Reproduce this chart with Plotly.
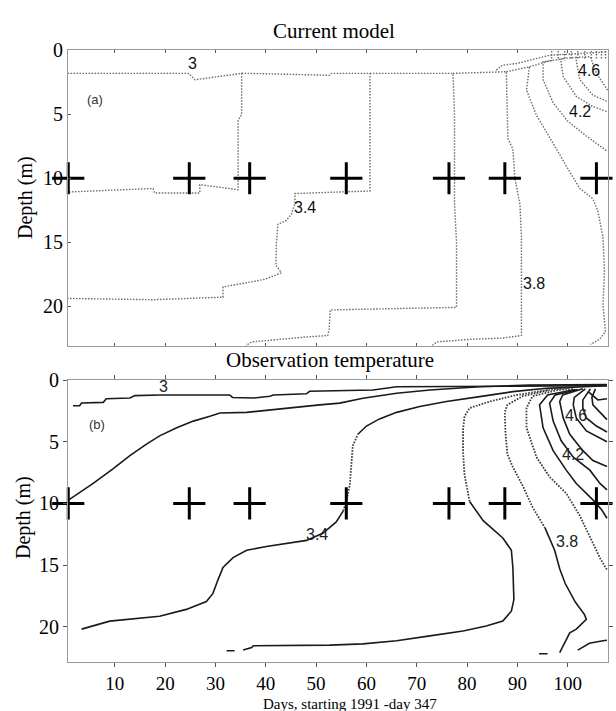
import plotly.graph_objects as go

# ---------------- data ----------------
# x = days (starting 1991 - day 347), y = depth (m)
x_ticks = [10, 20, 30, 40, 50, 60, 70, 80, 90, 100]
y_ticks = [0, 5, 10, 15, 20]

cross_days = [0.75, 24.8, 36.8, 56.0, 76.4, 87.5, 105.7]
cross_depth = [10, 10, 10, 10, 10, 10, 10]

# ---- panel (a): current model contour lines ----
a1_x = [0.6, 24.6, 25.2, 25.9, 35.2, 35.2, 34.5, 34.5, 26.9, 26.9, 17.9, 17.6, 0.6]
a1_y = [1.8, 1.8, 2.0, 2.3, 1.8, 5.0, 5.5, 10.9, 10.5, 11.15, 11.15, 10.8, 11.08]

a2_x = [35.2, 36.8, 52.7, 53.0, 60.7, 60.7, 52.7, 45.8, 45.8, 45.1, 44.1, 42.4, 42.1, 42.0,
        43.1, 39.8, 37.2, 31.5, 31.5, 17.6, 0.6]
a2_y = [1.8, 1.8, 1.95, 1.8, 1.8, 11.0, 11.1, 11.2, 12.0, 12.8, 13.3, 13.6, 15.2, 16.8,
        17.4, 17.9, 18.1, 18.5, 19.3, 19.5, 19.4]

a3_x = [60.7, 77.2, 77.5, 77.5, 77.9, 78.0, 77.9, 65.0, 52.8, 52.6, 52.3, 48.5, 44.0, 40.5, 37.2, 36.0]
a3_y = [1.8, 1.8, 5.0, 12.0, 15.0, 19.5, 20.1, 20.2, 20.3, 21.8, 22.3, 22.4, 22.55, 22.65, 22.8, 23.1]

a4_x = [77.2, 87.8, 88.1, 89.1, 89.5, 90.5, 90.8, 90.8, 90.8, 87.0, 80.5, 74.0, 73.0]
a4_y = [1.8, 1.67, 6.9, 7.7, 10.0, 12.05, 14.6, 18.85, 22.3, 22.5, 22.6, 22.8, 23.1]

a5_x = [87.8, 92.4, 91.8, 93.8, 95.8, 98.4, 100.4, 102.4, 105.0, 106.0, 107.0, 107.3, 107.0, 107.5, 106.3, 104.5]
a5_y = [1.67, 1.28, 3.1, 5.1, 6.4, 8.2, 9.5, 10.8, 11.6, 12.6, 14.6, 17.3, 19.9, 22.0, 22.6, 23.0]

a6_x = [92.4, 96.4, 95.1, 95.1, 97.1, 99.9, 103.7, 107.9]
a6_y = [1.28, 0.82, 0.9, 2.3, 4.1, 5.5, 6.7, 7.9]

a7_x = [96.4, 99.1, 98.6, 99.1, 101.7, 105.0, 107.9]
a7_y = [0.82, 0.64, 0.7, 2.05, 3.6, 4.4, 4.8]

a8_x = [99.1, 101.6, 102.0, 102.4, 105.0, 107.9]
a8_y = [0.64, 0.55, 1.5, 2.3, 3.5, 4.0]

a9_x = [101.6, 104.5, 105.7, 107.9]
a9_y = [0.55, 0.5, 1.8, 3.1]

a10_x = [85.8, 87.1, 89.8, 96.4, 107.9]
a10_y = [1.54, 1.15, 1.03, 0.38, 0.12]

a_surface_days = [96.8, 98.1, 99.4, 100.7, 102.0, 103.4, 104.7, 105.7, 106.7, 107.5]
a_surface_top = [0.05] * 10
a_surface_bottom = [0.85, 0.8, 0.8, 0.75, 0.75, 0.7, 0.7, 0.7, 0.7, 0.7]

# ---- panel (b): observation temperature contour lines ----
b1_x = [1.7, 3.0, 3.4, 7.7, 8.3, 13.0, 14.0, 18.9, 32.8, 33.4, 37.5, 40.8, 41.5, 48.1, 48.7,
        54.7, 61.3, 66.0, 80.0, 95.0, 107.8]
b1_y = [2.07, 2.07, 1.85, 1.8, 1.5, 1.45, 1.25, 1.2, 1.2, 1.4, 1.45, 1.3, 1.2, 1.1, 0.9,
        0.85, 0.8, 0.53, 0.5, 0.47, 0.45]

b2_x = [0.7, 5.7, 9.7, 13.0, 16.3, 18.9, 22.3, 25.6, 28.9, 30.9, 36.2, 41.4, 45.4, 50.7, 54.7,
        59.3, 66.0, 72.6, 82.5, 92.4, 107.8]
b2_y = [9.75, 8.38, 7.18, 6.12, 5.19, 4.52, 3.86, 3.32, 2.93, 2.66, 2.61, 2.39, 2.18, 2.0, 1.86,
        1.46, 1.06, 0.8, 0.53, 0.4, 0.36]

# 3.4 line: lower solid part, dotted vertical part near day 57, upper solid part
b3_low_x = [3.4, 9.0, 18.9, 24.2, 28.2, 29.5, 30.5, 31.5, 33.5, 36.2, 40.1, 45.4, 48.1, 51.4, 54.0, 55.4]
b3_low_y = [20.2, 19.55, 19.15, 18.6, 17.96, 17.3, 16.2, 15.2, 14.4, 13.8, 13.5, 13.2, 13.0, 12.4, 11.5, 10.6]
b3_mid_x = [55.4, 56.0, 56.7, 57.0, 57.3, 58.3]
b3_mid_y = [10.6, 9.84, 8.5, 6.65, 5.3, 4.39]
b3_up_x = [58.3, 60.0, 62.6, 66.0, 70.6, 75.9, 82.5, 89.1, 95.8, 105.7, 107.8]
b3_up_y = [4.39, 3.72, 3.14, 2.61, 2.13, 1.73, 1.33, 0.93, 0.66, 0.48, 0.45]

b4_up_x = [96.0, 89.8, 84.5, 80.5, 79.5, 79.2, 79.2, 79.5, 80.5]
b4_up_y = [0.8, 1.2, 1.73, 2.26, 2.93, 4.0, 5.85, 7.7, 9.84]
b4_low_x = [80.5, 83.2, 87.1, 88.8, 89.1, 89.3, 88.8, 87.1, 83.8, 79.2, 72.6, 66.0, 59.3, 52.7,
            37.5, 37.2, 35.5]
b4_low_y = [9.84, 11.4, 12.8, 13.8, 15.2, 17.8, 18.75, 19.55, 19.95, 20.35, 20.75, 21.15, 21.4,
            21.5, 21.55, 21.7, 21.9]
b4_dash_x = [32.2, 33.8]
b4_dash_y = [21.95, 21.95]

b5_up_x = [100.0, 97.0, 91.0, 88.0, 87.5, 87.6, 88.0, 89.1, 91.1, 93.0, 95.5]
b5_up_y = [0.65, 0.75, 1.3, 2.0, 2.6, 4.1, 6.0, 7.05, 8.6, 10.3, 12.0]
b5_low_x = [95.5, 97.4, 98.4, 99.5, 101.5, 103.3, 103.7, 101.7, 100.4, 99.4, 98.4]
b5_low_y = [12.0, 13.8, 15.3, 16.5, 18.0, 19.0, 19.4, 20.2, 20.5, 21.3, 22.1]
b5_dash_x = [94.3, 96.0]
b5_dash_y = [22.2, 22.2]
b5b_x = [102.0, 104.3, 107.0, 107.8]
b5b_y = [21.9, 21.35, 21.15, 21.1]

b6_x = [101.0, 98.0, 93.0, 91.8, 91.8, 93.8, 96.4, 99.7, 102.4, 104.5, 106.5, 107.8]
b6_y = [0.7, 0.8, 1.3, 2.26, 3.86, 6.25, 7.85, 9.18, 11.0, 12.8, 14.5, 15.4]

b7_x = [101.5, 96.0, 94.4, 95.1, 97.1, 99.7, 101.7, 105.0, 106.7, 107.8]
b7_y = [0.75, 1.2, 2.0, 3.86, 5.72, 7.3, 8.38, 9.71, 10.5, 11.2]

b8_x = [102.0, 97.5, 96.4, 97.1, 98.7, 101.1, 104.4, 106.4, 107.8]
b8_y = [0.75, 1.2, 1.86, 3.32, 4.92, 6.25, 7.3, 8.38, 8.9]

b9_x = [103.0, 99.0, 98.4, 99.1, 100.4, 103.0, 105.0, 107.8]
b9_y = [0.7, 1.2, 1.73, 3.06, 4.39, 5.72, 6.52, 7.0]

b10_x = [103.5, 101.3, 101.1, 101.7, 103.7, 107.8]
b10_y = [0.7, 1.4, 2.0, 3.06, 4.12, 5.0]

b11_x = [104.5, 103.0, 103.0, 103.7, 105.7, 107.8]
b11_y = [0.7, 1.6, 2.26, 3.06, 3.72, 4.2]

b12_x = [105.5, 104.8, 105.0, 107.8]
b12_y = [0.7, 1.4, 2.0, 3.2]

b13_x = [104.0, 106.0, 107.8]
b13_y = [0.9, 1.6, 1.5]

# contour labels
a_label_text = ["3", "3.4", "3.8", "4.2", "4.6"]
a_label_x = [25.4, 47.7, 93.3, 102.4, 104.2]
a_label_y = [1.0, 12.25, 18.2, 4.75, 1.55]

b_label_text = ["3", "3.4", "3.8", "4.2", "4.6"]
b_label_x = [19.7, 50.1, 99.8, 101.1, 101.7]
b_label_y = [0.55, 12.5, 13.05, 6.0, 2.9]

# ---------------- figure ----------------
W, H = 616, 711
fig = go.Figure()

SERIF = "Liberation Serif, Times New Roman, serif"
SANS = "Liberation Sans, Arial, sans-serif"

def add_line(xs, ys, panel, color, width, dash="solid"):
    ax = dict(xaxis="x", yaxis="y") if panel == "a" else dict(xaxis="x2", yaxis="y2")
    fig.add_trace(go.Scatter(x=xs, y=ys, mode="lines",
                             line=dict(color=color, width=width, dash=dash),
                             hoverinfo="skip", showlegend=False, **ax))

A_COL = "#6a6a6a"
A_DASH = "1.5px,1.5px"
for xs, ys in [(a1_x, a1_y), (a2_x, a2_y), (a3_x, a3_y), (a4_x, a4_y), (a5_x, a5_y),
               (a6_x, a6_y), (a7_x, a7_y), (a8_x, a8_y), (a9_x, a9_y), (a10_x, a10_y)]:
    add_line(xs, ys, "a", A_COL, 1.4, A_DASH)

sx, sy = [], []
for d, t, b in zip(a_surface_days, a_surface_top, a_surface_bottom):
    sx += [d, d, None]
    sy += [t, b, None]
add_line(sx, sy, "a", A_COL, 1.4, A_DASH)

B_COL = "#1a1a1a"
for xs, ys in [(b1_x, b1_y), (b2_x, b2_y), (b3_low_x, b3_low_y), (b3_up_x, b3_up_y),
               (b4_low_x, b4_low_y), (b4_dash_x, b4_dash_y),
               (b5_low_x, b5_low_y), (b5_dash_x, b5_dash_y), (b5b_x, b5b_y),
               (b7_x, b7_y), (b8_x, b8_y), (b9_x, b9_y), (b10_x, b10_y),
               (b11_x, b11_y), (b12_x, b12_y), (b13_x, b13_y)]:
    add_line(xs, ys, "b", B_COL, 1.6)
for xs, ys in [(b3_mid_x, b3_mid_y), (b4_up_x, b4_up_y), (b5_up_x, b5_up_y), (b6_x, b6_y)]:
    add_line(xs, ys, "b", "#3a3a3a", 1.8, "1.6px,1.4px")

# crosses
for xa, ya in [("x", "y"), ("x2", "y2")]:
    fig.add_trace(go.Scatter(x=cross_days, y=cross_depth, mode="markers",
                             marker=dict(symbol="cross-thin", size=23,
                                         line=dict(width=3, color="black")),
                             cliponaxis=False, hoverinfo="skip", showlegend=False,
                             xaxis=xa, yaxis=ya))

x0, x1 = 68 / W, 608 / W
common_x = dict(domain=[x0, x1], range=[0.7, 108], tickvals=x_ticks, showgrid=False,
                zeroline=False, showline=True, linecolor="#9a9a9a", linewidth=1,
                tickcolor="#555555", tickwidth=1)
common_y = dict(tickvals=y_ticks, showgrid=False, zeroline=False, showline=True,
                linecolor="#9a9a9a", linewidth=1, tickcolor="#555555", tickwidth=1,
                tickfont=dict(family=SERIF, size=20, color="black"))

fig.update_layout(
    width=W, height=H, margin=dict(l=0, r=0, t=0, b=0),
    paper_bgcolor="white", plot_bgcolor="white", showlegend=False,
    xaxis=dict(**common_x, anchor="y", ticks="inside", ticklen=3, mirror="ticks",
               showticklabels=False),
    yaxis=dict(**common_y, domain=[1 - 340 / H, 1 - 40 / H], range=[23.1, 0], anchor="x",
               ticks="inside", ticklen=3, mirror=True),
    xaxis2=dict(**common_x, anchor="y2", ticks="outside", ticklen=4, mirror="ticks",
                tickfont=dict(family=SERIF, size=19, color="black")),
    yaxis2=dict(**common_y, domain=[1 - 661 / H, 1 - 375 / H], range=[22.85, 0], anchor="x2",
                ticks="outside", ticklen=4, mirror="ticks"),
)

def paper_text(text, px, py, size, angle=0, family=SERIF):
    return dict(text=text, x=px / W, y=1 - py / H, xref="paper", yref="paper",
                xanchor="center", yanchor="middle", textangle=angle, showarrow=False,
                font=dict(family=family, size=size, color="black"))

ann = [
    paper_text("Current model", 334, 20, 21),
    paper_text("Observation temperature", 330, 354, 21),
    paper_text("Days, starting 1991 -day 347", 350, 704, 15),
    paper_text("Depth (m)", 25, 190, 20, -90),
    paper_text("Depth (m)", 23, 515, 20, -90),
]
ann.append(dict(text="(a)", x=6.0, y=3.85, xref="x", yref="y", showarrow=False,
                xanchor="center", yanchor="middle",
                font=dict(family=SANS, size=13, color="#333333")))
ann.append(dict(text="(b)", x=6.4, y=3.6, xref="x2", yref="y2", showarrow=False,
                xanchor="center", yanchor="middle",
                font=dict(family=SANS, size=13, color="#333333")))
for t, xv, yv in zip(a_label_text, a_label_x, a_label_y):
    ann.append(dict(text=t, x=xv, y=yv, xref="x", yref="y", showarrow=False,
                    xanchor="center", yanchor="middle",
                    font=dict(family=SANS, size=16, color="#111111")))
for t, xv, yv in zip(b_label_text, b_label_x, b_label_y):
    ann.append(dict(text=t, x=xv, y=yv, xref="x2", yref="y2", showarrow=False,
                    xanchor="center", yanchor="middle",
                    font=dict(family=SANS, size=16, color="#222222")))
fig.update_layout(annotations=ann)

fig.write_html("out.html")
